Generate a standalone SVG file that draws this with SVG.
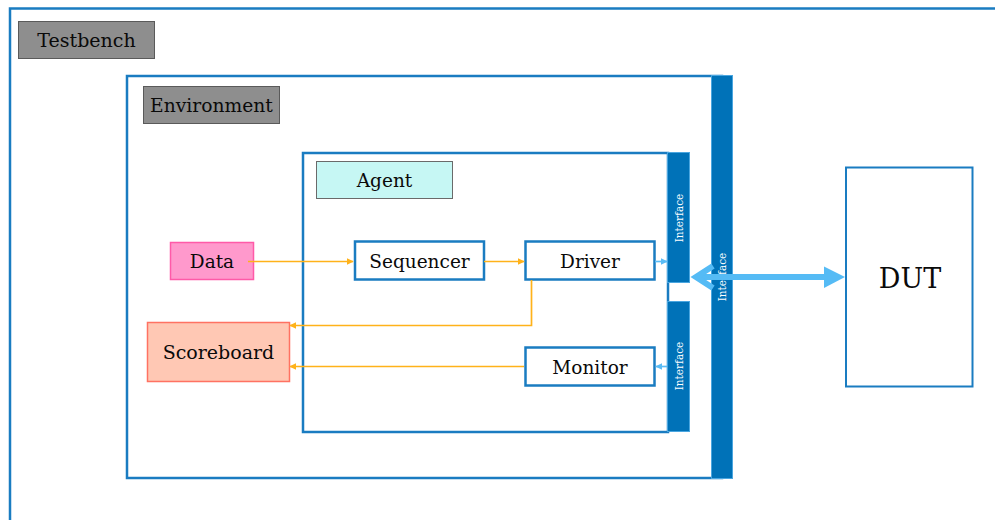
<svg xmlns="http://www.w3.org/2000/svg" width="995" height="520" viewBox="0 0 995 520">
  <style>
    .frame { fill: none; stroke: #1a7cc1; stroke-width: 2.5; }
    .tag { fill: #8e8e8e; stroke: #5a5a5a; stroke-width: 1; }
    .box { fill: #ffffff; stroke: #1a7cc1; stroke-width: 2.5; }
    .bar { fill: #0072b8; stroke: #4aa6e0; stroke-width: 1; }
    .lbl { font-family: "DejaVu Serif", "Liberation Serif", serif; fill: #0a0a0a; text-anchor: middle; font-size: 18.5px; }
    .ifc { font-family: "DejaVu Serif", "Liberation Serif", serif; fill: #ffffff; font-size: 10.5px; text-anchor: middle; }
    .flow { fill: none; stroke: #ffb21a; stroke-width: 1.7; }
    .sig { fill: none; stroke: #5bbcf5; stroke-width: 1.7; }
  </style>
  <defs>
    <marker id="orangeHead" viewBox="0 0 10 10" refX="9" refY="5" markerWidth="7" markerHeight="7" markerUnits="userSpaceOnUse" orient="auto">
      <path d="M0,0 L10,5 L0,10 z" fill="#ffb21a"/>
    </marker>
    <marker id="blueHead" viewBox="0 0 10 10" refX="9" refY="5" markerWidth="7" markerHeight="7" markerUnits="userSpaceOnUse" orient="auto">
      <path d="M0,0 L10,5 L0,10 z" fill="#5bbcf5"/>
    </marker>
  </defs>

  <!-- Testbench frame (open to the right and bottom) -->
  <g id="testbench">
    <path class="frame" d="M10,520 V8.5 H995"/>
    <rect class="tag" x="18.5" y="21.5" width="136" height="37"/>
    <text class="lbl" x="86.5" y="47" style="font-size:19px">Testbench</text>
  </g>

  <!-- Environment -->
  <g id="environment">
    <rect class="frame" x="127" y="76" width="595" height="402"/>
    <rect class="tag" x="143.5" y="86.5" width="136" height="37"/>
    <text class="lbl" x="211.5" y="112" style="font-size:18.7px">Environment</text>
  </g>

  <!-- Agent -->
  <g id="agent">
    <rect class="frame" x="303" y="153" width="365" height="279"/>
    <rect x="316.5" y="161.5" width="136" height="37" fill="#c6f7f4" stroke="#6a6a6a" stroke-width="1"/>
    <text class="lbl" x="384.5" y="187">Agent</text>
  </g>

  <!-- Interfaces -->
  <g id="env-interface">
    <rect class="bar" x="711.5" y="75.5" width="21" height="403"/>
    <text class="ifc" transform="translate(726,277) rotate(-90)">Interface</text>
  </g>
  <g id="drv-interface">
    <rect class="bar" x="667.5" y="152.5" width="22" height="130"/>
    <text class="ifc" transform="translate(682.5,218) rotate(-90)">Interface</text>
  </g>
  <g id="mon-interface">
    <rect class="bar" x="667.5" y="301.5" width="22" height="130"/>
    <text class="ifc" transform="translate(682.5,366) rotate(-90)">Interface</text>
  </g>

  <!-- Components -->
  <g id="data">
    <rect x="170.5" y="242.5" width="83" height="37" fill="#ff99cc" stroke="#ff5aa8" stroke-width="1.5"/>
    <text class="lbl" x="212" y="268">Data</text>
  </g>
  <g id="sequencer">
    <rect class="box" x="355" y="241.5" width="129" height="38"/>
    <text class="lbl" x="419.5" y="268">Sequencer</text>
  </g>
  <g id="driver">
    <rect class="box" x="525.5" y="241.5" width="129" height="38"/>
    <text class="lbl" x="590" y="268">Driver</text>
  </g>
  <g id="monitor">
    <rect class="box" x="525.5" y="347.5" width="129" height="38"/>
    <text class="lbl" x="590" y="373.5">Monitor</text>
  </g>
  <g id="scoreboard">
    <rect x="147.5" y="322.5" width="142" height="59" fill="#ffc8b4" stroke="#ff7262" stroke-width="1.5"/>
    <text class="lbl" x="218.5" y="359" style="font-size:19px">Scoreboard</text>
  </g>
  <g id="dut">
    <rect x="846" y="167.5" width="126.5" height="219" fill="#ffffff" stroke="#1a7cc1" stroke-width="2"/>
    <text class="lbl" x="910" y="288" style="font-size:27px">DUT</text>
  </g>

  <!-- Connectors -->
  <g id="connectors">
    <path class="flow" d="M248,261.5 H353" marker-end="url(#orangeHead)"/>
    <path class="flow" d="M484,261.5 H524" marker-end="url(#orangeHead)"/>
    <path class="flow" d="M531.5,280 V325.5 H290" marker-end="url(#orangeHead)"/>
    <path class="flow" d="M524,366.5 H290" marker-end="url(#orangeHead)"/>
    <path class="sig" d="M655,261.5 H667" marker-end="url(#blueHead)"/>
    <path class="sig" d="M667,366.5 H656" marker-end="url(#blueHead)"/>
    <!-- two-way link between environment interface and DUT -->
    <g id="dut-link">
      <path d="M696,277 H826" fill="none" stroke="#55bbf5" stroke-width="6"/>
      <path d="M713,266 L696,277 L713,288" fill="none" stroke="#55bbf5" stroke-width="6" stroke-linejoin="miter"/>
      <path d="M824,266.5 L845,277 L824,288 z" fill="#55bbf5"/>
    </g>
  </g>
</svg>
